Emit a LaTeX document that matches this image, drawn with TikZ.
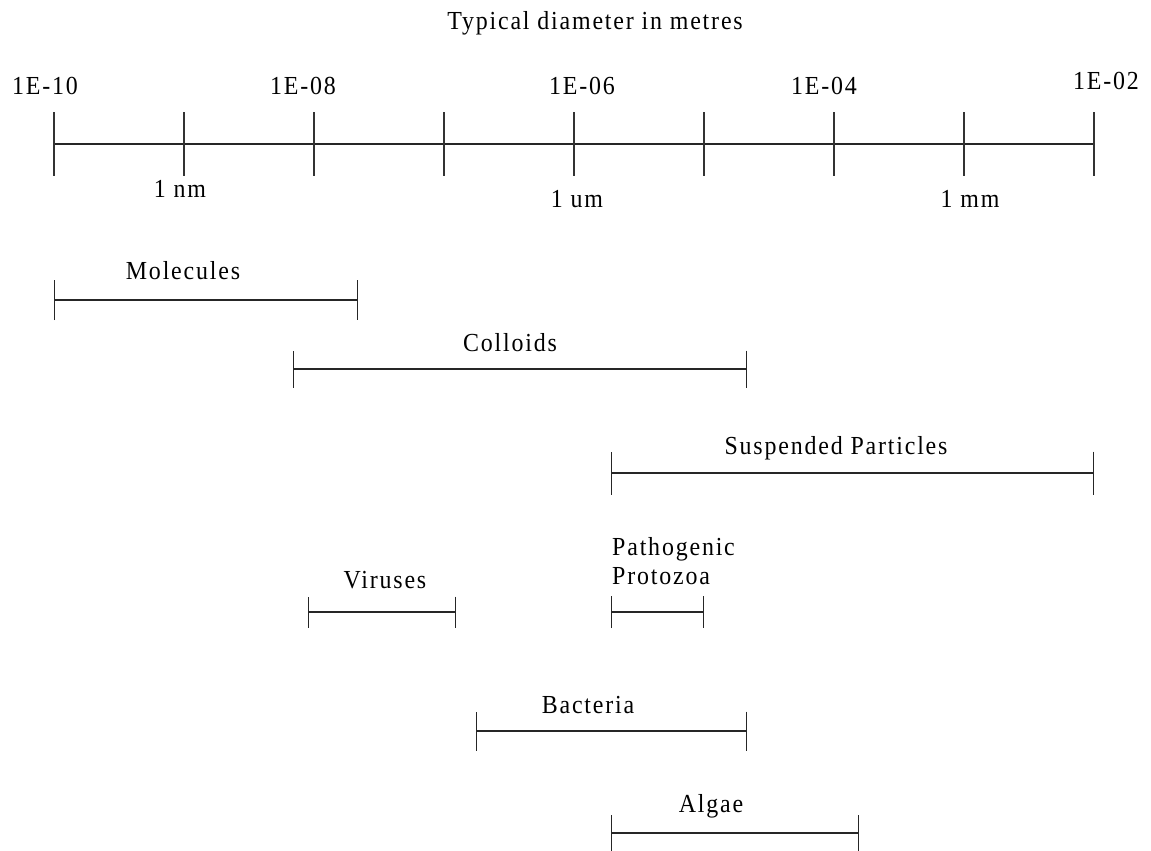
\documentclass[tikz,border=0pt]{standalone}
\usepackage{fontspec}
\setmainfont{Liberation Serif}[LetterSpace=7,FakeStretch=0.92]
\usetikzlibrary{arrows.meta,calc}
\tikzset{
  lbl/.style={font=\fontsize{26}{29}\selectfont, inner sep=0pt, anchor=base},
  lblw/.style={lbl, anchor=base west},
  axisline/.style={line width=1.3pt, draw=black!85},
  tickline/.style={line width=1.3pt, draw=black!80},
  rangebar/.style={line width=1.3pt, draw=black!85, {Bar[width=#1]}-{Bar[width=#1]}},
}
\begin{document}
\begin{tikzpicture}[x=1pt,y=-1pt]
\useasboundingbox[fill=white] (0,0) rectangle (1151,851);

% title
\node[lbl] (title) at (595,30) {Typical diameter in metres};

% axis
\coordinate (a0) at (54,144);
\coordinate (a8) at (1094,144);
\draw[axisline] (a0) -- (a8);
\foreach \i in {0,...,8}{
  \coordinate (t\i) at ({54+130*\i},144);
  \draw[tickline] ($(t\i)+(0,-32)$) -- ($(t\i)+(0,32)$);
}

% axis labels
\node[lbl] (e10) at (45,95) {1E-10};
\node[lbl] (e08) at (303,95) {1E-08};
\node[lbl] (e06) at (582,95) {1E-06};
\node[lbl] (e04) at (824,95) {1E-04};
\node[lbl] (e02) at (1106,89) {1E-02};
\node[lbl] (nm) at (180,197) {1 nm};
\node[lbl] (um) at (577,207) {1 um};
\node[lbl] (mm) at (970,207) {1 mm};

% Molecules
\coordinate (mol1) at (54,300);
\coordinate (mol2) at (358,300);
\draw[rangebar=40pt] (mol1) -- (mol2);
\node[lbl] (mol) at (183,279) {Molecules};

% Colloids
\coordinate (col1) at (293,369);
\coordinate (col2) at (747,369);
\draw[rangebar=37pt] (col1) -- (col2);
\node[lbl] (col) at (510,351) {Colloids};

% Suspended Particles
\coordinate (sus1) at (611,473);
\coordinate (sus2) at (1094,473);
\draw[rangebar=43pt] (sus1) -- (sus2);
\node[lbl] (sus) at (836,454) {Suspended Particles};

% Viruses
\coordinate (vir1) at (308,612);
\coordinate (vir2) at (456,612);
\draw[rangebar=31pt] (vir1) -- (vir2);
\node[lbl] (vir) at (385,588) {Viruses};

% Pathogenic Protozoa
\coordinate (pro1) at (611,612);
\coordinate (pro2) at (704,612);
\draw[rangebar=32pt] (pro1) -- (pro2);
\node[lblw] (proA) at (612,555) {Pathogenic};
\node[lblw] (proB) at (612,584) {Protozoa};

% Bacteria
\coordinate (bac1) at (476,731);
\coordinate (bac2) at (747,731);
\draw[rangebar=39pt] (bac1) -- (bac2);
\node[lbl] (bac) at (588,713) {Bacteria};

% Algae
\coordinate (alg1) at (611,833);
\coordinate (alg2) at (859,833);
\draw[rangebar=36pt] (alg1) -- (alg2);
\node[lbl] (alg) at (711,812) {Algae};
\end{tikzpicture}
\end{document}
